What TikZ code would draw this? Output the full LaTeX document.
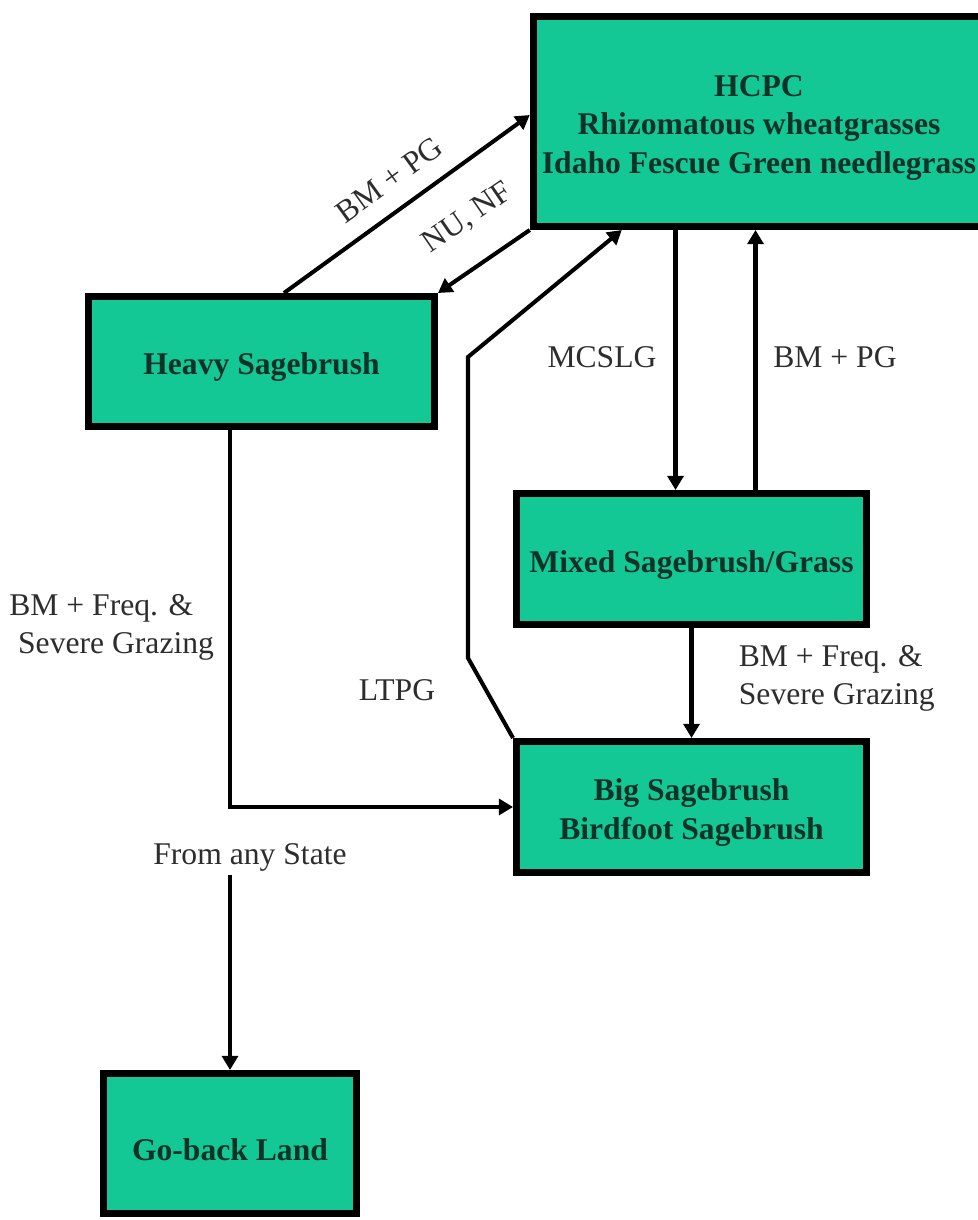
\documentclass[tikz,border=0pt]{standalone}
\usepackage{fontspec}
\setmainfont{Liberation Serif}
\usetikzlibrary{positioning, calc, arrows.meta}

\definecolor{stategreen}{RGB}{20,200,150}
\definecolor{statetext}{RGB}{15,50,40}
\definecolor{labeltext}{RGB}{45,45,45}

\begin{document}
\begin{tikzpicture}[x=0.02cm, y=-0.02cm,
    statebox/.style={draw=black, fill=stategreen, line width=4pt, text=statetext, inner xsep=2pt,
      font=\bfseries\fontsize{18}{22}\selectfont, align=center},
    trans/.style={line width=2.3pt, -{Triangle[length=8pt, width=9pt]}},
    translbl/.style={text=labeltext, font=\fontsize{18}{22}\selectfont, inner sep=2pt}]
  \newcommand\statewidth{7cm}
  \newcommand\stateheight{2.62cm}
  \newcommand\statestrut{\rule{0pt}{19pt}} % pushes box text a bit lower

  \useasboundingbox (0,0) rectangle (977,1220);

  % states
  \node[statebox, minimum width=9.03cm, minimum height=4.2cm] at (759,121.5) (hcpc) {\statestrut HCPC\\Rhizomatous wheatgrasses\\Idaho Fescue Green needlegrass};
  \node[statebox, minimum width=6.92cm, minimum height=2.6cm] at (261.5,361.5) (heavy) {\statestrut Heavy Sagebrush};
  \node[statebox, minimum width=\statewidth, minimum height=\stateheight] at (691.5,559) (mixed) {\statestrut Mixed Sagebrush/Grass};
  \node[statebox, minimum width=\statewidth, minimum height=\stateheight, below=2.2cm of mixed] (big) {\statestrut Big Sagebrush\\Birdfoot Sagebrush};
  \node[statebox, minimum width=5.06cm, minimum height=2.8cm] at (230,1143.5) (goback) {\statestrut Go-back Land};

  % pathway labels
  \node[translbl] at (602,357) (mcslg) {MCSLG};
  \node[translbl] at (835,357) (bmpg-up) {BM + PG};
  \node[translbl] at (397,690) (ltpg) {LTPG};
  \node[translbl, align=left, anchor=west] at (5.5,627.5) (severe-left) {BM + Freq. \&\\\hspace*{5pt}Severe Grazing};
  \node[translbl, align=left, anchor=west] at (735,678.5) (severe-right) {BM + Freq. \&\\Severe Grazing};
  \node[translbl] at (250,857) (anystate) {From any State};

  \coordinate (ltpg-low) at (468,658);
  \coordinate (ltpg-high) at (468,357);
  \coordinate (down-x) at ($(mixed.north)+(-16,0)$);
  \coordinate (up-x) at ($(mixed.north)+(64,0)$);

  % transitions
  \draw[trans] ($(heavy.north)+(22.5,0)$) -- node[translbl, sloped, above=8pt] (bmpg-diag) {BM + PG} ($(hcpc.west)+(0,-6.5)$);
  \draw[trans] (hcpc.south west) -- node[translbl, sloped, above=15pt, pos=0.4] (nunf) {NU, NF} (heavy.north east);
  \draw[trans] (big.north west) -- (ltpg-low) -- (ltpg-high) -- ($(hcpc.south west)+(92,0)$);
  \draw[trans] (down-x |- hcpc.south) -- (down-x);
  \draw[trans] (up-x) -- (up-x |- hcpc.south);
  \draw[trans] (mixed) -- (big);
  \draw[trans] (goback.north |- heavy.south) |- (big.west);
  \draw[trans] (goback.north |- anystate.south) -- (goback.north);
\end{tikzpicture}
\end{document}
